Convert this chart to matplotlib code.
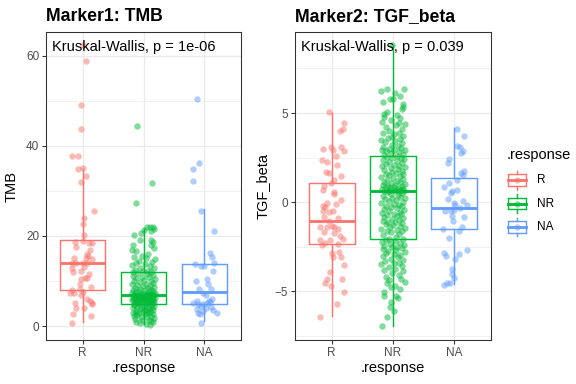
import matplotlib
matplotlib.use("Agg")
import matplotlib.pyplot as plt
from matplotlib.patches import Rectangle
from matplotlib.lines import Line2D
from matplotlib.ticker import MultipleLocator

plt.rcParams["font.family"] = ["Liberation Sans", "DejaVu Sans"]

# ── Data ─────────────────────────────────────────────────────────────────────

groups = ["R", "NR", "NA"]
colors = ["#F8766D", "#00BA38", "#619CFF"]

# TMB values per response group
tmb_r = [62.5, 58.9, 49.1, 43.8, 37.8, 37.8, 34.8, 35.1, 33.4, 31.9, 25.6, 24.0, 22.7, 20.2,
         18.7, 18.9, 18.4, 18.4, 17.6, 16.9, 16.0, 15.0, 15.0, 14.8, 13.9, 13.9, 13.9, 13.9,
         13.0, 13.2, 12.1, 12.3, 10.6, 10.7, 10.4, 9.3, 8.7, 8.1, 8.3, 7.6, 7.4, 7.3, 6.9,
         6.1, 5.6, 5.2, 4.8, 5.2, 3.9, 4.0, 2.7, 2.3, 0.6, 11.5, 15.5]
tmb_nr = [44.4, 31.7, 27.4, 22.1, 22.0, 21.9, 21.6, 21.3, 21.0, 20.6, 20.2, 19.1, 19.0, 18.6,
          18.0, 18.0, 17.4, 16.9, 16.6, 16.0, 15.6, 15.4, 15.0, 14.8, 14.5, 14.2, 14.0, 13.8,
          13.5, 13.3, 13.0, 12.8, 12.5, 12.3, 12.2, 12.0, 12.0,
          11.8, 11.6, 11.4, 11.2, 11.0, 10.8, 10.6, 10.5, 10.3, 10.1, 10.0, 9.8, 9.6, 9.4,
          9.3, 9.1, 9.0, 8.8, 8.7, 8.5, 8.4, 8.3, 8.1, 8.0, 7.9, 7.8, 7.7, 7.6, 7.5, 7.4,
          7.3, 7.3, 7.2, 7.1, 7.1, 7.0, 7.0, 7.0, 7.0, 7.0,
          6.9, 6.9, 6.8, 6.8, 6.7, 6.7, 6.6, 6.6, 6.5, 6.5, 6.4, 6.4, 6.3, 6.3, 6.2, 6.2,
          6.1, 6.1, 6.0, 6.0, 6.0, 5.9, 5.9, 5.8, 5.8, 5.7, 5.7, 5.6, 5.6, 5.5, 5.5, 5.4,
          5.4, 5.3, 5.3, 5.2, 5.2, 5.1, 5.1, 5.0,
          4.9, 4.8, 4.7, 4.6, 4.5, 4.4, 4.3, 4.2, 4.1, 4.0, 3.9, 3.8, 3.7, 3.6, 3.5, 3.4,
          3.3, 3.2, 3.1, 3.0, 3.0, 2.9, 2.8, 2.7, 2.6, 2.5, 2.3, 2.2, 2.0, 1.9, 1.7, 1.6,
          1.4, 1.3, 1.1, 1.0, 0.8, 0.7, 0.5, 0.3]
tmb_na = [50.4, 36.1, 34.8, 32.1, 25.6, 21.2, 16.3, 15.3, 13.9, 12.3, 13.8, 13.3, 13.3, 10.0,
          10.4, 9.3, 8.2, 8.2, 7.3, 5.2, 5.6, 4.9, 4.4, 4.9, 5.2, 5.4, 6.1, 4.2, 3.6, 3.0,
          2.8, 2.6, 3.3, 0.7, 3.8, 5.6, 4.0, 7.0]

# TGF_beta values per response group
tgf_r = [5.04, 4.42, 4.10, 3.99, 2.98, 3.07, 2.92, 3.07, 2.85, 2.38, 2.27, 2.57, 2.10, 1.67,
         1.65, 1.44, 1.24, 1.05, 0.90, 0.54, 0.45, 0.11, -0.07, -0.21, -0.26, -0.12, -0.49,
         -0.58, -0.49, -0.84, -1.07, -1.42, -1.42, -1.35, -1.42, -1.53, -1.67, -1.76, -2.13,
         -2.13, -2.10, -2.42, -2.28, -2.36, -2.85, -2.83, -3.07, -3.11, -3.56, -3.95, -4.34,
         -4.30, -4.57, -4.70, -5.07, -5.71, -6.44, -1.90, -0.90, 0.70]
tgf_nr = [8.80, 6.35, 6.35, 6.25, 6.10, 5.80, 5.77, 5.64, 5.50, 5.32, 5.20, 5.05, 4.90, 4.80,
          4.70, 4.60, 4.50, 4.40, 4.30, 4.20, 4.10, 4.00, 3.90, 3.85, 3.80, 3.70, 3.60, 3.55,
          3.50, 3.40, 3.35, 3.30, 3.20, 3.15, 3.10, 3.05, 3.00, 2.95, 2.90, 2.85, 2.80, 2.75,
          2.70, 2.65, 2.60, 5.95, 4.95, 3.65, 4.45, 2.90,
          2.55, 2.50, 2.45, 2.40, 2.35, 2.30, 2.25, 2.20, 2.15, 2.10, 2.05, 2.00, 1.95, 1.90,
          1.85, 1.80, 1.75, 1.70, 1.65, 1.60, 1.55, 1.50, 1.45, 1.40, 1.35, 1.30, 1.25, 1.20,
          1.15, 1.10, 1.05, 1.00, 0.98, 0.95, 0.92, 0.90, 0.86, 0.82, 0.80, 0.76, 0.74, 0.72,
          0.70, 0.68, 0.66, 0.64, 0.62, 0.61, 0.60, 0.60,
          0.55, 0.50, 0.45, 0.40, 0.35, 0.30, 0.25, 0.20, 0.15, 0.10, 0.05, 0.00, -0.05, -0.10,
          -0.15, -0.20, -0.25, -0.30, -0.35, -0.40, -0.45, -0.50, -0.55, -0.60, -0.65, -0.70,
          -0.75, -0.80, -0.85, -0.90, -0.95, -1.00, -1.05, -1.10, -1.15, -1.20, -1.25, -1.30,
          -1.35, -1.40, -1.45, -1.50, -1.55, -1.60, -1.65, -1.70, -1.80, -1.85, -1.95, -2.05,
          -2.10, -2.15, -2.20, -2.25, -2.30, -2.35, -2.40, -2.45, -2.50, -2.55, -2.60, -2.65,
          -2.70, -2.75, -2.80, -2.85, -2.90, -3.00, -3.05, -3.10, -3.20, -3.25, -3.30, -3.40,
          -3.45, -3.50, -3.60, -3.65, -3.75, -3.80, -3.90, -4.00, -4.10, -4.20, -4.30, -4.40,
          -4.48, -4.55, -4.70, -4.76, -4.90, -5.05, -5.28, -5.28, -5.40, -5.60, -5.88, -6.10,
          -6.44, -6.97]
tgf_na = [4.12, 3.73, 3.15, 3.07, 2.87, 2.77, 2.40, 2.21, 1.65, 1.72, 1.50, 1.24, 1.05, 0.84,
          0.64, 0.67, 0.49, 0.15, 0.06, -0.15, -0.07, -0.19, -0.32, -0.49, -0.49, -0.45, -0.82,
          -0.78, -1.07, -1.39, -1.53, -1.65, -2.02, -2.88, -3.03, -2.94, -2.70, -3.22, -3.75,
          -4.04, -4.25, -4.53, -4.64, -4.55]

# Boxplot summaries (R, NR, NA)
tmb_med = [14.0, 7.0, 7.5]
tmb_q1 = [7.9, 5.0, 5.0]
tmb_q3 = [19.0, 11.9, 13.7]
tmb_lo = [0.96, 0.5, 1.1]
tmb_hi = [34.8, 21.6, 25.9]

tgf_med = [-1.07, 0.60, -0.34]
tgf_q1 = [-2.34, -2.08, -1.53]
tgf_q3 = [1.08, 2.57, 1.37]
tgf_lo = [-6.40, -6.97, -4.62]
tgf_hi = [4.98, 8.80, 4.16]

# ── Jitter offsets (horizontal) ──────────────────────────────────────────────

tmb_r_jit = [0.0, 0.05, -0.02, -0.03, -0.18, -0.08, -0.07, 0.0, 0.05, -0.03, 0.18, 0.03, 0.0,
             0.03, -0.12, 0.0, 0.10, 0.15, -0.10, 0.13, 0.08, -0.14, 0.06, 0.16, -0.17, -0.10,
             0.0, 0.07, -0.18, 0.03, -0.15, -0.02, 0.04, 0.08, -0.03, -0.05, 0.14, -0.18,
             -0.04, 0.0, -0.20, -0.14, -0.02, 0.08, 0.12, 0.16, 0.16, -0.12, 0.03, -0.10,
             -0.16, 0.14, -0.18, 0.11, 0.09]
tmb_nr_jit = [-0.10, 0.14, -0.12, 0.15, 0.11, 0.06, 0.18, 0.0, 0.12, -0.04, -0.15, 0.12, -0.06,
              0.16, -0.18, 0.13, 0.18, -0.19, -0.12, 0.08, -0.02, -0.16, 0.04, 0.19, -0.08,
              0.14, -0.13, 0.02, -0.19, 0.10, -0.05, 0.17, -0.14, 0.07, -0.01, 0.12, -0.17,
              -0.09, 0.05, 0.15, -0.18, -0.03, 0.09, -0.12, 0.19, 0.01, -0.15, 0.12, -0.06,
              0.16, -0.19, 0.04, -0.10, 0.10, -0.01, 0.18, -0.14, 0.07, -0.05, 0.13, -0.17,
              0.02, 0.16, -0.08, 0.09, -0.13, 0.0, 0.19, -0.19, 0.06, -0.04, 0.14, -0.11,
              0.03, 0.11, -0.16, 0.08,
              -0.02, 0.17, -0.13, 0.05, -0.07, 0.12, -0.18, 0.01, 0.09, -0.10, 0.15, -0.04,
              0.06, -0.15, 0.19, -0.01, 0.10, -0.08, 0.03, -0.17, 0.14, -0.06, 0.07, -0.12,
              0.16, 0.0, -0.19, 0.11, -0.03, 0.05, -0.14, 0.18, -0.09, 0.02, 0.13, -0.11,
              0.08, -0.05, 0.15, -0.16,
              0.04, -0.08, 0.12, -0.15, 0.0, 0.17, -0.11, 0.07, -0.03, 0.14, -0.18, 0.09,
              -0.06, 0.02, 0.16, -0.13, 0.05, -0.01, 0.11, -0.17, -0.12, 0.08, -0.07, 0.15,
              0.03, -0.10, 0.12, -0.16, 0.06, -0.04, 0.18, -0.14, 0.09, -0.02, 0.13, -0.12,
              0.16, -0.06, 0.04, 0.10]
tmb_na_jit = [-0.13, -0.09, -0.18, -0.18, -0.05, 0.16, 0.09, 0.13, 0.15, 0.14, -0.16, -0.05,
              -0.01, -0.14, 0.04, 0.06, 0.10, -0.09, -0.03, -0.18, -0.13, -0.11, -0.06, -0.02,
              0.05, 0.09, 0.13, 0.11, 0.14, 0.20, -0.10, -0.08, -0.02, -0.06, -0.12, 0.07,
              0.02, 0.03]

tgf_r_jit = [-0.04, 0.20, 0.18, 0.14, -0.14, -0.02, 0.02, 0.15, 0.20, -0.16, -0.07, 0.07,
             0.08, -0.10, -0.05, 0.15, 0.03, -0.02, -0.12, 0.03, 0.04, 0.15, -0.08, -0.14,
             -0.11, 0.07, 0.02, -0.04, -0.14, -0.12, -0.05, -0.19, -0.07, 0.0, 0.04, 0.11,
             -0.12, 0.04, -0.19, -0.03, 0.19, -0.16, -0.11, 0.10, 0.0, 0.12, 0.15, 0.02, 0.20,
             -0.03, -0.07, 0.17, -0.11, -0.01, 0.20, 0.09, -0.19, 0.13, 0.10, -0.15]
tgf_nr_jit = [-0.01, -0.09, 0.18, -0.19, 0.03, -0.05, 0.0, -0.17, 0.16, 0.16, 0.15, -0.10,
              0.07, -0.14, 0.12, -0.03, -0.18, 0.19, 0.05, -0.11, 0.14, -0.06, 0.09, -0.16,
              0.02, 0.17, -0.08, 0.11, -0.19, 0.04, -0.13, 0.15, -0.02, 0.08, -0.17, 0.13,
              -0.07, 0.19, 0.01, -0.12, 0.10, -0.04, 0.16, -0.15, 0.06, 0.12, -0.15, -0.01,
              0.09, -0.18,
              -0.09, 0.13, -0.02, 0.18, -0.16, 0.06, -0.07, 0.15, -0.12, 0.02, 0.10, -0.18,
              0.19, -0.04, 0.08, -0.14, 0.14, -0.01, 0.05, -0.11, 0.17, -0.06, 0.11, -0.19,
              0.0, 0.16, -0.09, 0.07, -0.15, 0.12, -0.03, 0.19, -0.17, 0.04, -0.08, 0.14,
              -0.12, 0.01, 0.09, -0.05, 0.17, -0.18, 0.06, -0.02, 0.13, -0.14, 0.10, -0.07,
              0.03, 0.18,
              -0.10, 0.15, -0.04, 0.08, -0.16, 0.12, -0.01, 0.19, -0.13, 0.05, -0.07, 0.16,
              -0.19, 0.02, 0.10, -0.11, 0.14, -0.03, 0.07, -0.15, 0.18, -0.06, 0.11, -0.18,
              0.01, 0.13, -0.09, 0.06, -0.14, 0.17, -0.02, 0.09, -0.17, 0.04, -0.08, 0.15,
              -0.12, 0.0, 0.12, -0.05, 0.19, -0.19, 0.07, -0.10, 0.14, -0.03, 0.10, -0.16,
              0.05, -0.07,
              0.16, -0.12, 0.03, -0.18, 0.11, -0.05, 0.18, -0.14, 0.07, -0.01, 0.14, -0.16,
              0.05, -0.08, 0.19, -0.11, 0.02, 0.12, -0.17, 0.08, -0.04, 0.16, -0.13, 0.01,
              0.10, -0.19, 0.14, -0.07, 0.04, -0.15, 0.17, -0.02, 0.09, -0.12, 0.13, -0.06,
              0.19, -0.09, 0.03, -0.03, 0.11, -0.14, -0.15, 0.05, 0.08, -0.04, -0.05, 0.02,
              -0.09, -0.18]
tgf_na_jit = [0.05, 0.16, 0.04, 0.10, 0.14, 0.11, -0.08, -0.10, 0.11, 0.16, 0.14, 0.05, -0.08,
              -0.17, -0.03, 0.05, -0.05, -0.10, 0.15, 0.21, -0.01, 0.02, 0.09, -0.15, -0.05,
              0.0, 0.16, -0.04, -0.02, 0.12, -0.19, 0.08, -0.09, -0.16, -0.14, 0.08, 0.20,
              0.01, -0.03, -0.04, 0.0, -0.07, -0.16, -0.12]

# ── Styling ──────────────────────────────────────────────────────────────────

GRID = "#EBEBEB"
BORDER = "#333333"
TICK_TEXT = "#4D4D4D"
W, H = 576, 384
PT_SIZE = 23


def draw_panel(ax, values, jitters, med, q1, q3, lo, hi, ylim, major, minor, ptext):
    positions = [1, 2, 3]
    for pos, col, m, a, b, l, h in zip(positions, colors, med, q1, q3, lo, hi):
        stats = [{"med": m, "q1": a, "q3": b, "whislo": l, "whishi": h, "fliers": []}]
        ax.bxp(
            stats, positions=[pos], widths=0.75, patch_artist=True,
            showcaps=False, showfliers=False,
            boxprops={"facecolor": "white", "edgecolor": col, "linewidth": 1.07},
            medianprops={"color": col, "linewidth": 2.13},
            whiskerprops={"color": col, "linewidth": 1.07},
            zorder=2,
        )
    for pos, col, vals, jit in zip(positions, colors, values, jitters):
        xs = [pos + j for j in jit]
        ax.scatter(xs, vals, s=PT_SIZE, color=col, alpha=0.5, linewidths=0, zorder=3)

    ax.set_xlim(0.4, 3.6)
    ax.set_ylim(*ylim)
    ax.set_xticks(positions)
    ax.set_xticklabels(groups)
    ax.yaxis.set_major_locator(MultipleLocator(major))
    ax.yaxis.set_minor_locator(MultipleLocator(minor))
    ax.set_axisbelow(True)
    ax.grid(which="major", color=GRID, linewidth=1.0)
    ax.grid(which="minor", axis="y", color=GRID, linewidth=0.5)
    ax.tick_params(which="major", length=2.75, width=0.8, color=BORDER,
                   labelsize=8.8, labelcolor=TICK_TEXT, pad=2.2)
    ax.tick_params(which="minor", length=0)
    for sp in ax.spines.values():
        sp.set_color(BORDER)
        sp.set_linewidth(0.8)
    ax.text(0.031, 0.951, ptext, transform=ax.transAxes, fontsize=11,
            ha="left", va="center", zorder=5)


fig = plt.figure(figsize=(6, 4), dpi=96)

ax1 = fig.add_axes([46 / W, 1 - 340 / H, 195 / W, 308 / H])
draw_panel(ax1, [tmb_r, tmb_nr, tmb_na], [tmb_r_jit, tmb_nr_jit, tmb_na_jit],
           tmb_med, tmb_q1, tmb_q3, tmb_lo, tmb_hi,
           (-3.1, 65.3), 20, 10, "Kruskal-Wallis, p = 1e-06")

ax2 = fig.add_axes([295 / W, 1 - 340 / H, 196 / W, 308 / H])
draw_panel(ax2, [tgf_r, tgf_nr, tgf_na], [tgf_r_jit, tgf_nr_jit, tgf_na_jit],
           tgf_med, tgf_q1, tgf_q3, tgf_lo, tgf_hi,
           (-7.75, 9.55), 5, 2.5, "Kruskal-Wallis, p = 0.039")

# Titles and axis titles
fig.text(46 / W, 1 - 21 / H, "Marker1: TMB", fontsize=13.2, fontweight="bold", va="baseline")
fig.text(295 / W, 1 - 21 / H, "Marker2: TGF_beta", fontsize=13.2, fontweight="bold", va="baseline")
fig.text(12 / W, 1 - 186 / H, "TMB", fontsize=11, rotation=90, ha="center", va="center")
fig.text(263 / W, 1 - 186 / H, "TGF_beta", fontsize=11, rotation=90, ha="center", va="center")
fig.text(143.5 / W, 1 - 368 / H, ".response", fontsize=11, ha="center", va="center")
fig.text(392.7 / W, 1 - 368 / H, ".response", fontsize=11, ha="center", va="center")

# ── Legend (drawn in a pixel-space axes) ─────────────────────────────────────
lax = fig.add_axes([500 / W, 1 - 245 / H, 76 / W, 110 / H])
lax.set_xlim(500, 576)
lax.set_ylim(245, 135)
lax.axis("off")
lax.text(507, 155, ".response", fontsize=11, ha="left", va="center")
key = 23.3
for i, (g, col) in enumerate(zip(groups, colors)):
    cy = 180.3 + i * key
    cx = 517
    top = cy - key / 2
    lax.add_line(Line2D([cx, cx], [top + 0.1 * key, top + 0.25 * key], color=col, lw=1.07))
    lax.add_line(Line2D([cx, cx], [top + 0.75 * key, top + 0.9 * key], color=col, lw=1.07))
    lax.add_patch(Rectangle((cx - 0.375 * key, top + 0.25 * key), 0.75 * key, 0.5 * key,
                            facecolor="white", edgecolor=col, lw=1.07))
    lax.add_line(Line2D([cx - 0.375 * key, cx + 0.375 * key], [cy, cy], color=col, lw=2.13))
    lax.scatter([cx], [cy], s=PT_SIZE, color=col, alpha=0.5, linewidths=0, zorder=5)
    lax.text(536.7, cy, g, fontsize=8.8, ha="left", va="center")

fig.savefig("out.png", dpi=96)
